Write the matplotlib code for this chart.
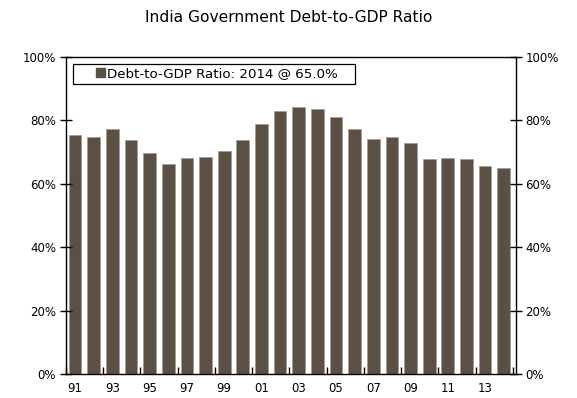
import matplotlib
matplotlib.use("Agg")
import matplotlib.pyplot as plt
import numpy as np
from matplotlib.patches import Patch, Rectangle

years = list(range(1991, 2015))
values = [75.4, 74.7, 77.2, 73.7, 69.8, 66.2, 68.0, 68.4, 70.3, 73.8, 78.9, 83.0,
          84.3, 83.5, 81.1, 77.3, 74.1, 74.7, 72.7, 67.7, 68.2, 67.7, 65.7, 65.0]
xlabels = [f"{y % 100:02d}" for y in years[::2]]
yticks = [0, 20, 40, 60, 80, 100]
ylabels = [f"{v}%" for v in yticks]
title = "India Government Debt-to-GDP Ratio"
legend_label = "Debt-to-GDP Ratio: 2014 @ 65.0%"

plt.rcParams['font.family'] = ['DejaVu Sans']
fig = plt.figure(figsize=(5.77, 3.98), dpi=100)
ax = fig.add_axes([0.114, 0.0603, 0.780, 0.7967])
x = np.arange(len(values))
color = '#5c5044'
ax.bar(x, values, width=0.68, color=color, edgecolor='#a39a90', linewidth=0.5)
ax.set_xlim(-0.5, 23.65)
ax.set_ylim(0, 100)
ax.set_yticks(yticks)
ax.set_yticklabels(ylabels, fontsize=8.5)
ax.tick_params(axis='y', direction='inout', length=8, width=1, right=True, labelright=True, pad=3)
ax.set_xticks(x[::2])
ax.set_xticklabels(xlabels, fontsize=8.5)
ax.tick_params(axis='x', which='major', length=0, pad=6)
ax.set_xticks(np.arange(-0.5, 24, 2), minor=True)
ax.tick_params(axis='x', which='minor', direction='in', length=5, width=1)
for s in ax.spines.values():
    s.set_linewidth(1)
    s.set_color('black')
fig.suptitle(title, fontsize=11.2, y=0.975)

# legend frame
ax.add_patch(Rectangle((0.0156, 0.915), 0.6264, 0.063, transform=ax.transAxes,
                       facecolor='white', edgecolor='black', linewidth=0.9, zorder=5))
leg = ax.legend(handles=[Patch(facecolor=color, edgecolor=color)], labels=[legend_label],
                loc='center left', bbox_to_anchor=(0.0667, 0.9465), fontsize=9.6,
                frameon=False, borderpad=0, borderaxespad=0,
                handlelength=0.68, handleheight=0.68, handletextpad=0.15)
leg.set_zorder(6)
fig.savefig("out.png", dpi=100)
